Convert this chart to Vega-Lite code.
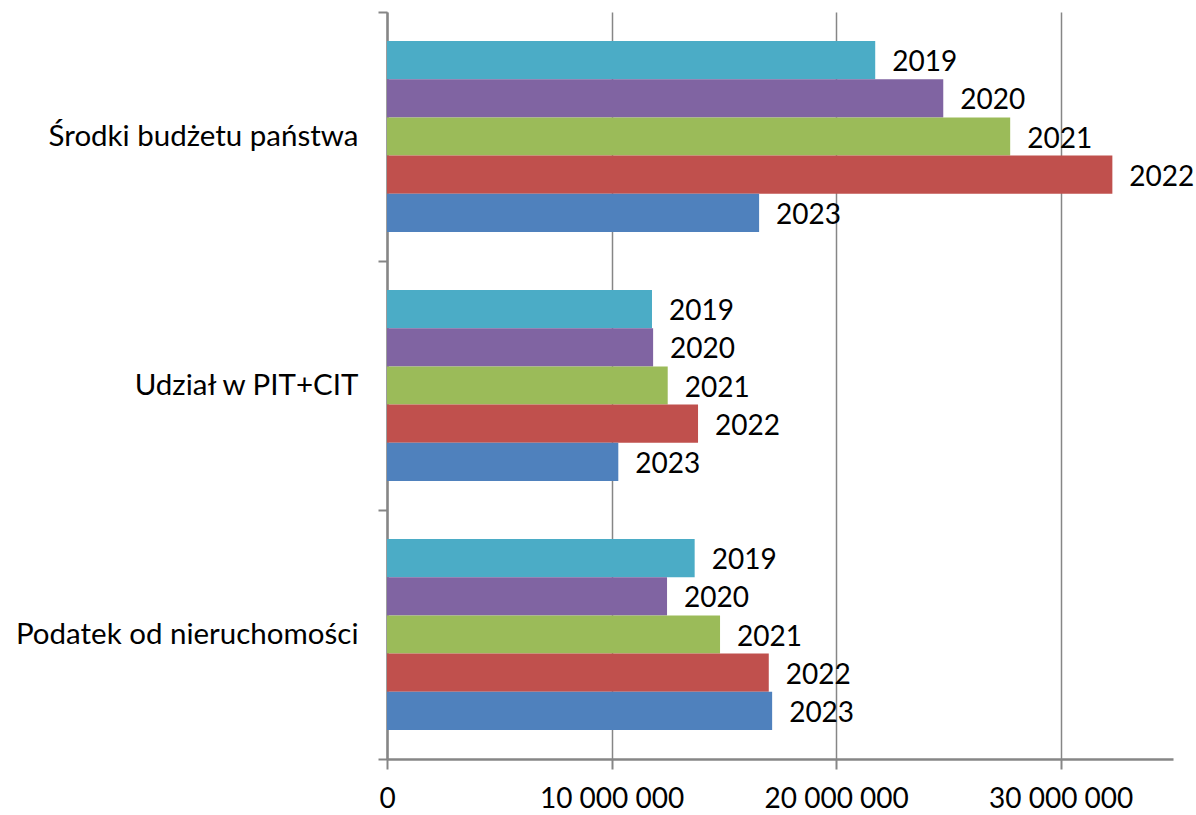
{
  "$schema": "https://vega.github.io/schema/vega-lite/v6.json",
  "width": 786,
  "height": 747,
  "autosize": {"type": "none"},
  "padding": {"left": 387, "top": 12, "right": 23, "bottom": 56},
  "background": "white",
  "config": {"view": {"stroke": null}, "font": "Lato"},
  "data": {"values": [
    {"kategoria": "Środki budżetu państwa", "rok": "2019", "kwota": 21740000},
    {"kategoria": "Środki budżetu państwa", "rok": "2020", "kwota": 24770000},
    {"kategoria": "Środki budżetu państwa", "rok": "2021", "kwota": 27750000},
    {"kategoria": "Środki budżetu państwa", "rok": "2022", "kwota": 32300000},
    {"kategoria": "Środki budżetu państwa", "rok": "2023", "kwota": 16570000},
    {"kategoria": "Udział w PIT+CIT", "rok": "2019", "kwota": 11800000},
    {"kategoria": "Udział w PIT+CIT", "rok": "2020", "kwota": 11850000},
    {"kategoria": "Udział w PIT+CIT", "rok": "2021", "kwota": 12500000},
    {"kategoria": "Udział w PIT+CIT", "rok": "2022", "kwota": 13850000},
    {"kategoria": "Udział w PIT+CIT", "rok": "2023", "kwota": 10300000},
    {"kategoria": "Podatek od nieruchomości", "rok": "2019", "kwota": 13700000},
    {"kategoria": "Podatek od nieruchomości", "rok": "2020", "kwota": 12470000},
    {"kategoria": "Podatek od nieruchomości", "rok": "2021", "kwota": 14830000},
    {"kategoria": "Podatek od nieruchomości", "rok": "2022", "kwota": 17000000},
    {"kategoria": "Podatek od nieruchomości", "rok": "2023", "kwota": 17150000}
  ]},
  "encoding": {
    "y": {
      "field": "kategoria", "type": "nominal",
      "sort": ["Środki budżetu państwa", "Udział w PIT+CIT", "Podatek od nieruchomości"],
      "scale": {"paddingInner": 0, "paddingOuter": 0},
      "axis": {
        "title": null, "tickBand": "extent", "tickSize": 9, "tickWidth": 2, "tickColor": "#868686",
        "domainColor": "#868686", "domainWidth": 2.5, "labelFontSize": 29.5, "labelColor": "#000000",
        "labelPadding": 20, "labelLimit": 0, "grid": false
      }
    },
    "yOffset": {"field": "rok", "type": "nominal", "sort": ["2019", "2020", "2021", "2022", "2023"], "scale": {"paddingInner": 0, "paddingOuter": 0.76}},
    "x": {
      "field": "kwota", "type": "quantitative",
      "scale": {"domain": [0, 35000000], "nice": false},
      "axis": {
        "title": null, "values": [0, 10000000, 20000000, 30000000],
        "labelExpr": "replace(format(datum.value, ',d'), regexp(',', 'g'), ' ')",
        "grid": true, "gridColor": "#868686", "gridWidth": 1.5,
        "tickSize": 10, "tickWidth": 2, "tickColor": "#868686",
        "domainColor": "#868686", "domainWidth": 2.5,
        "labelFontSize": 28, "labelColor": "#000000", "labelPadding": 16, "labelFlush": false
      }
    }
  },
  "layer": [
    {
      "mark": {"type": "bar"},
      "encoding": {
        "color": {
          "field": "rok", "type": "nominal",
          "scale": {"domain": ["2019", "2020", "2021", "2022", "2023"], "range": ["#4BACC6", "#8064A2", "#9BBB59", "#C0504D", "#4F81BD"]},
          "legend": null
        }
      }
    },
    {
      "mark": {"type": "text", "align": "left", "baseline": "middle", "dx": 17, "dy": 3, "fontSize": 28, "color": "#000000"},
      "encoding": {"text": {"field": "rok", "type": "nominal"}}
    }
  ]
}
